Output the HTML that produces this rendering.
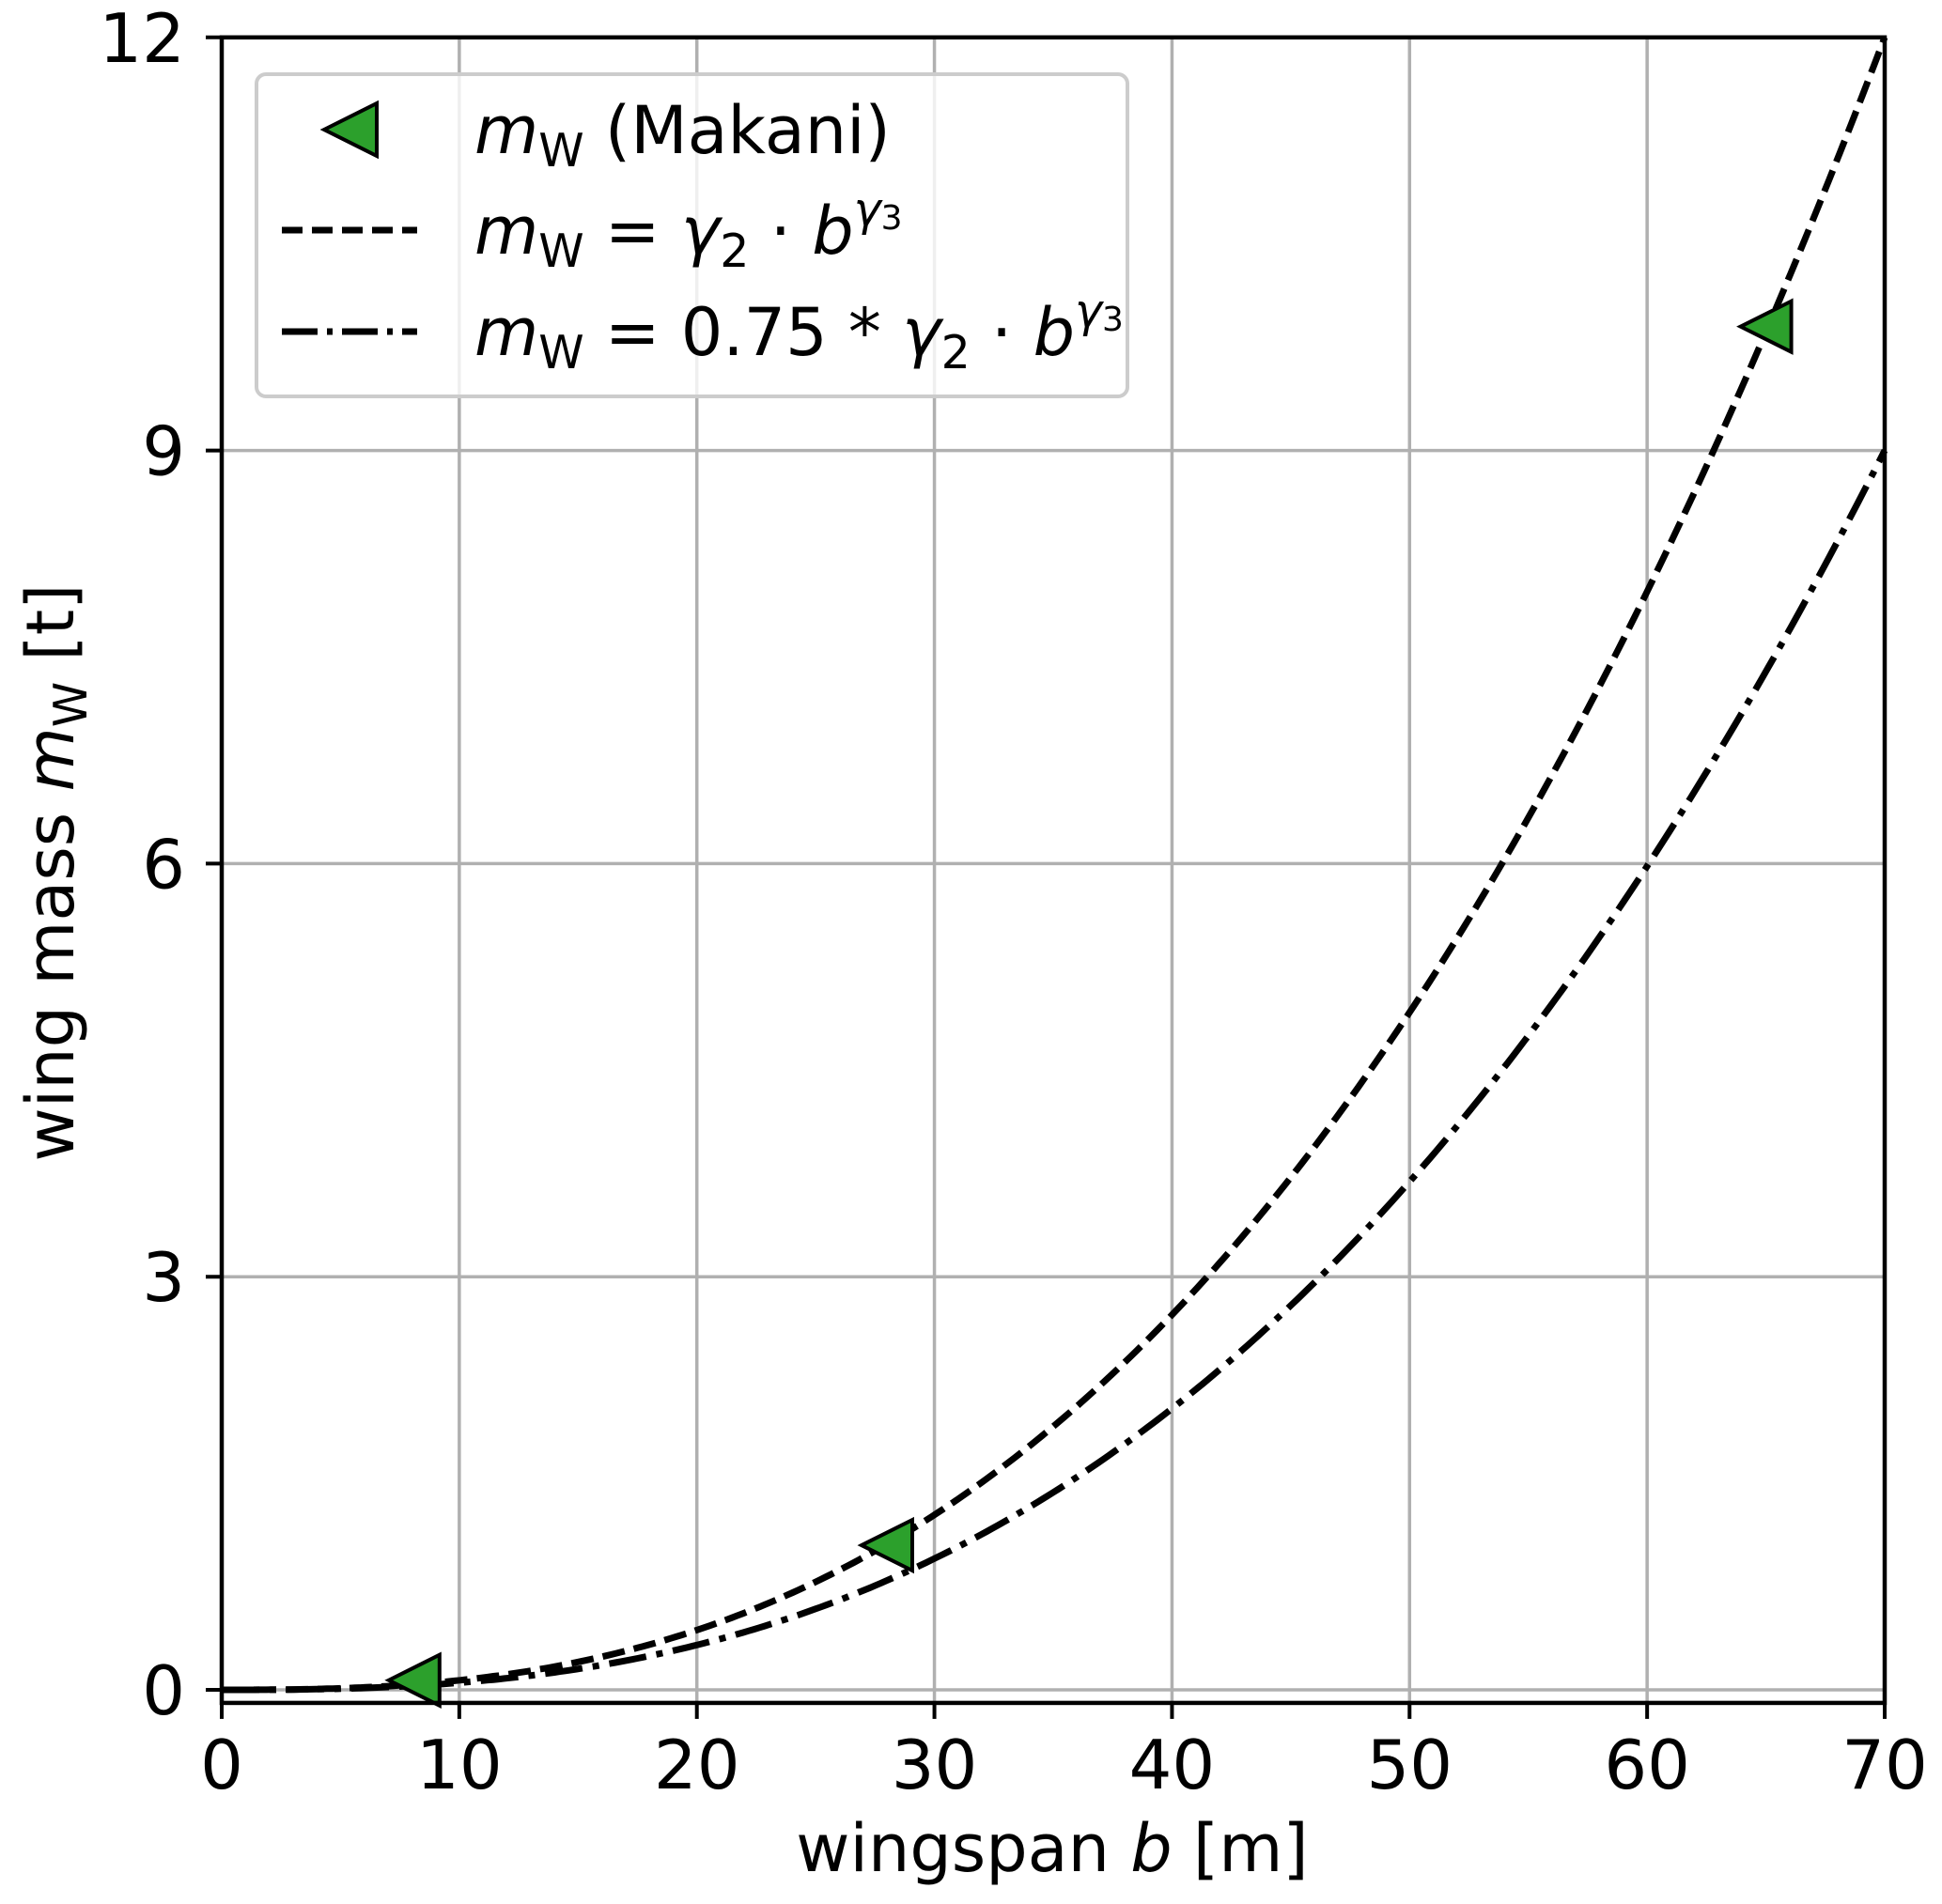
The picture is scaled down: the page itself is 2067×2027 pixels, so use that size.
<!DOCTYPE html>
<html><head><meta charset="utf-8"><style>
html,body{margin:0;padding:0;background:#fff;}
svg{display:block;font-family:"DejaVu Sans","Liberation Sans",sans-serif;}
</style></head><body>
<svg id="chart" width="2067" height="2027" viewBox="0 0 2067 2027" xmlns="http://www.w3.org/2000/svg">
<g id="grid"></g>
<g id="series"></g>
<g id="axes"></g>
<g id="legend">
  <rect x="273" y="79" width="927" height="343" rx="10" fill="#fff" fill-opacity="0.8" stroke="#cccccc" stroke-width="4"/>
  <polygon points="345,138 401,110 401,166" fill="#2ca02c" stroke="#000" stroke-width="4"/>
  <text x="505" y="163" font-size="70"><tspan font-style="italic">m</tspan><tspan font-size="49" dy="14">W</tspan><tspan dy="-14"> (Makani)</tspan></text>
  <line x1="300" y1="245" x2="444" y2="245" stroke="#000" stroke-width="7" stroke-dasharray="22,10"/>
  <text x="505" y="270" font-size="70"><tspan font-style="italic">m</tspan><tspan font-size="49" dy="14">W</tspan><tspan dy="-14"> = </tspan><tspan font-style="italic">γ</tspan><tspan font-size="49" dy="14">2</tspan><tspan dy="-14"> · </tspan><tspan font-style="italic">b</tspan><tspan font-size="49" font-style="italic" dy="-30">γ</tspan><tspan font-size="36" dy="4">3</tspan></text>
  <line x1="300" y1="353" x2="444" y2="353" stroke="#000" stroke-width="7" stroke-dasharray="38,10,6,10"/>
  <text x="505" y="378" font-size="70"><tspan font-style="italic">m</tspan><tspan font-size="49" dy="14">W</tspan><tspan dy="-14"> = 0.75 * </tspan><tspan font-style="italic">γ</tspan><tspan font-size="49" dy="14">2</tspan><tspan dy="-14"> · </tspan><tspan font-style="italic">b</tspan><tspan font-size="49" font-style="italic" dy="-30">γ</tspan><tspan font-size="36" dy="4">3</tspan></text>
</g>
<text x="1120" y="1992" font-size="70" text-anchor="middle">wingspan <tspan font-style="italic">b</tspan> [m]</text>
<text transform="translate(78,929) rotate(-90)" font-size="70" text-anchor="middle">wing mass <tspan font-style="italic">m</tspan><tspan font-size="49" dy="14">W</tspan><tspan dy="-14"> [t]</tspan></text>
</svg>
<script>
const xTicks = [0, 10, 20, 30, 40, 50, 60, 70];
const yTicks = [0, 3, 6, 9, 12];
const makaniSpan = [8.1, 28.0, 65.0];
const makaniMass = [0.07, 1.05, 9.9];
const gamma3 = [2.65];
const massAt70 = [12];
const reductionFactor = [0.75];

const X0 = 236, X1 = 2006, XMIN = 0, XMAX = 70;
const Y0 = 1799, YPX = 146.6, YMIN = -0.095;
function sx(v){ return X0 + (v - XMIN) / (XMAX - XMIN) * (X1 - X0); }
function sy(v){ return Y0 - v * YPX; }
const NS = 'http://www.w3.org/2000/svg';
function mk(tag, attrs, parent){ const e = document.createElementNS(NS, tag); for (const k in attrs) e.setAttribute(k, attrs[k]); parent.appendChild(e); return e; }
const grid = document.getElementById('grid'), axes = document.getElementById('axes'), series = document.getElementById('series');
const yTop = sy(12), yBottom = sy(YMIN);

xTicks.forEach(t => {
  const g = mk('line', {x1: sx(t), x2: sx(t), y1: yTop, y2: yBottom, stroke: '#b0b0b0', 'stroke-width': 3.5}, grid);
  
  
  const tk = mk('line', {x1: sx(t), x2: sx(t), y1: yBottom, y2: yBottom + 17, stroke: '#000', 'stroke-width': 4}, axes);
  
  
  const lb = mk('text', {x: sx(t), y: 1904, 'font-size': 72, 'text-anchor': 'middle'}, axes);
  lb.textContent = t;
  
  
});
yTicks.forEach(t => {
  const g = mk('line', {x1: X0, x2: X1, y1: sy(t), y2: sy(t), stroke: '#b0b0b0', 'stroke-width': 3.5}, grid);
  
  
  const tk = mk('line', {x1: X0 - 17, x2: X0, y1: sy(t), y2: sy(t), stroke: '#000', 'stroke-width': 4}, axes);
  
  
  const lb = mk('text', {x: 197, y: sy(t) + 26, 'font-size': 72, 'text-anchor': 'end'}, axes);
  lb.textContent = t;
  
  
});
const frame = mk('rect', {x: X0, y: yTop, width: X1 - X0, height: yBottom - yTop, fill: 'none', stroke: '#000', 'stroke-width': 4.5}, axes);



const g2 = massAt70[0] / Math.pow(70, gamma3[0]);
function curve(f){ let d = ''; for (let i = 0; i <= 300; i++){ const b = XMAX * i / 300; d += (i ? 'L' : 'M') + sx(b).toFixed(1) + ',' + sy(f * g2 * Math.pow(b, gamma3[0])).toFixed(1); } return d; }
const dashed = mk('path', {d: curve(1), fill: 'none', stroke: '#000', 'stroke-width': 7, 'stroke-dasharray': '24,10'}, series);


const dashdot = mk('path', {d: curve(reductionFactor[0]), fill: 'none', stroke: '#000', 'stroke-width': 7, 'stroke-dasharray': '40,11,7,11'}, series);



makaniSpan.forEach((b, i) => {
  const cx = sx(b), cy = sy(makaniMass[i]), h = 27;
  const p = mk('polygon', {points: `${cx - h},${cy} ${cx + h},${cy - h} ${cx + h},${cy + h}`, fill: '#2ca02c', stroke: '#000', 'stroke-width': 4}, series);
  
  
});
</script>
</body></html>
